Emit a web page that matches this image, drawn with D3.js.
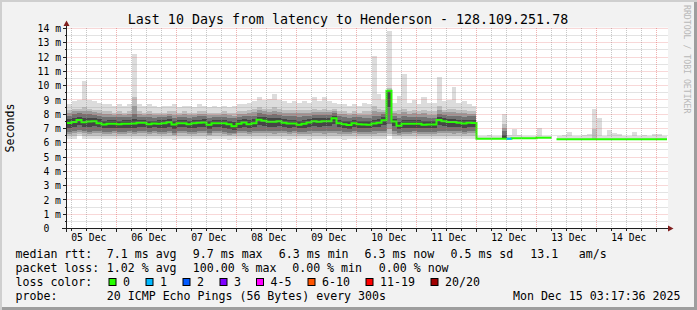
<!DOCTYPE html>
<html><head><meta charset="utf-8">
<script src="https://cdn.jsdelivr.net/npm/d3@7"></script>
<style>
body{margin:0;background:#f2f2f2}
svg{display:block}
text{font-family:"DejaVu Sans Mono",monospace;fill:#000}
</style>
</head><body>
<svg id="c" width="697" height="310"></svg>
<script>
// ---------------- data ----------------
const title = "Last 10 Days from latency to Henderson - 128.109.251.78";
const yTickValues = [0,1,2,3,4,5,6,7,8,9,10,11,12,13,14];
const dayLabels = ["05 Dec","06 Dec","07 Dec","08 Dec","09 Dec","10 Dec","11 Dec","12 Dec","13 Dec","14 Dec"];
// 2-hour steps starting 05 Dec 02:00, values in ms
const median = [
7.38,7.38,7.45,7.6,7.44,7.49,7.5,7.37,7.28,7.33,
7.33,7.3,7.33,7.33,7.35,7.4,7.4,7.3,7.35,7.33,
7.36,7.44,7.28,7.37,7.37,7.3,7.37,7.4,7.42,7.26,
7.37,7.37,7.37,7.3,7.16,7.33,7.42,7.3,7.37,7.62,
7.55,7.47,7.47,7.5,7.4,7.35,7.35,7.26,7.33,7.42,
7.5,7.47,7.5,7.5,7.72,7.37,7.3,7.24,7.37,7.3,
7.28,7.26,7.35,7.4,7.58,9.65,7.49,7.2,7.33,7.33,
7.33,7.33,7.26,7.28,7.28,7.6,7.5,7.45,7.45,7.4,
7.35,7.4,7.38,6.28,6.28,6.28,6.28,6.28,6.28,6.28,
6.32,6.32,6.32,6.32,6.32,6.35,6.35,6.35,null,6.25,
6.25,6.25,6.25,6.25,6.25,6.25,6.25,6.25,6.25,6.25,
6.25,6.25,6.25,6.25,6.25,6.25,6.25,6.25,6.25,6.25,
6.25,6.25];
const lostPings = [
0,0,0,0,0,0,0,0,0,0, 0,0,0,0,0,0,0,0,0,0,
0,0,0,0,0,0,0,0,0,0, 0,0,0,0,0,0,0,0,0,0,
0,0,0,0,0,0,0,0,0,0, 0,0,0,0,0,0,0,0,0,0,
0,0,0,0,0,0,0,0,0,0, 0,0,0,0,0,0,0,0,0,0,
0,0,0,0,0,0,0,0,0,1, 0,0,0,0,0,0,0,0,0,0,
0,0,0,0,0,0,0,0,0,0, 0,0,0,0,0,0,0,0,0,0,
0,0];
const smokeMin = [
6.3,6.25,6.25,6.45,6.3,6.25,6.25,6.3,6.25,6.25,
6.3,6.25,6.25,6.3,6.25,6.3,6.25,6.25,6.3,6.25,
6.25,6.3,6.2,6.25,6.25,6.3,6.25,6.25,6.3,6.2,
6.25,6.3,6.25,6.2,6.25,6.3,6.25,6.25,6.3,6.3,
6.25,6.3,6.25,6.3,6.25,6.2,6.25,6.3,6.25,6.2,
6.3,6.25,6.25,6.3,6.25,6.25,6.2,6.25,6.3,6.25,
6.25,6.3,6.25,6.3,6.3,6.45,6.25,6.25,6.3,6.25,
6.3,6.25,6.25,6.3,6.25,6.3,6.25,6.3,6.25,6.3,
6.25,6.3,6.3,null,null,null,null,null,6.28,null,
null,null,null,null,null,null,null,null,null,null,
null,null,null,null,null,null,6.25,null,null,null,
null,null,null,null,null,null,null,null,null,null,
null,null];
const smokeP10 = [
6.5,6.45,6.5,6.6,6.5,6.45,6.5,6.5,6.45,6.5,
6.5,6.45,6.5,6.5,6.45,6.5,6.5,6.45,6.5,6.5,
6.45,6.5,6.45,6.5,6.5,6.5,6.45,6.5,6.5,6.45,
6.5,6.5,6.45,6.45,6.5,6.5,6.5,6.45,6.5,6.5,
6.5,6.5,6.45,6.5,6.5,6.45,6.5,6.5,6.45,6.45,
6.5,6.5,6.45,6.5,6.5,6.45,6.45,6.5,6.5,6.45,
6.5,6.5,6.45,6.5,6.5,6.6,6.45,6.45,6.5,6.5,
6.5,6.45,6.5,6.5,6.45,6.5,6.5,6.5,6.45,6.5,
6.5,6.5,6.5,null,null,null,null,null,6.28,null,
null,null,null,null,null,null,null,null,null,null,
null,null,null,null,null,null,6.25,null,null,null,
null,null,null,null,null,null,null,null,null,null,
null,null];
const smokeP25 = [
6.8,6.75,6.8,6.9,6.8,6.75,6.8,6.8,6.75,6.75,
6.8,6.75,6.75,6.8,6.75,6.8,6.8,6.75,6.8,6.75,
6.75,6.8,6.7,6.8,6.8,6.75,6.75,6.8,6.8,6.7,
6.8,6.8,6.75,6.7,6.7,6.8,6.8,6.75,6.8,6.85,
6.85,6.8,6.8,6.85,6.8,6.75,6.8,6.75,6.75,6.8,
6.85,6.8,6.8,6.85,6.85,6.8,6.75,6.75,6.8,6.75,
6.75,6.75,6.8,6.8,6.85,7.3,6.8,6.7,6.75,6.75,
6.8,6.75,6.75,6.75,6.75,6.85,6.8,6.8,6.8,6.8,
6.75,6.8,6.8,null,null,null,null,null,6.28,null,
null,null,null,null,null,null,null,null,null,null,
null,null,null,null,null,null,null,null,null,null,
null,null,null,null,null,null,null,null,null,null,
null,null];
const smokeP75 = [
7.85,7.9,8.0,8.05,8.0,8.0,7.95,7.9,7.8,7.8,
7.8,7.8,7.8,7.8,8.0,7.8,7.8,7.8,7.75,7.8,
7.8,7.85,7.75,7.8,7.8,7.75,7.8,7.85,7.85,7.75,
7.8,7.8,7.8,7.75,7.7,7.8,7.85,7.85,7.9,8.05,
8.0,7.95,8.0,7.95,7.9,7.85,7.85,7.8,7.85,7.9,
7.95,7.95,7.95,7.95,8.1,7.85,7.8,7.75,7.8,7.8,
7.75,7.75,7.9,7.9,8.0,9.6,7.9,7.75,7.9,7.8,
7.8,7.8,7.8,7.75,7.75,8.0,7.95,7.9,7.9,7.85,
7.8,7.85,7.85,null,null,null,null,null,6.8,null,
null,null,null,null,null,null,null,null,null,null,
null,null,null,null,null,null,null,null,null,null,
null,null,null,null,null,null,null,null,null,null,
null,null];
const smokeP90 = [
8.2,8.3,8.4,8.4,8.5,8.4,8.3,8.3,8.2,8.2,
8.1,8.2,8.1,8.2,9.2,8.2,8.1,8.2,8.1,8.1,
8.1,8.2,8.2,8.1,8.2,8.1,8.1,8.2,8.2,8.1,
8.1,8.1,8.2,8.1,8.1,8.2,8.2,8.3,8.4,8.5,
8.4,8.4,8.5,8.4,8.3,8.3,8.3,8.3,8.3,8.3,
8.4,8.3,8.4,8.3,8.4,8.2,8.2,8.1,8.2,8.1,
8.2,8.2,8.6,8.4,8.3,9.8,8.2,8.3,8.4,8.2,
8.3,8.2,8.3,8.2,8.2,8.6,8.3,8.4,8.4,8.3,
8.3,8.2,8.2,null,null,null,null,null,7.3,null,
null,null,null,null,null,null,null,null,null,null,
null,null,null,null,null,null,7.0,null,null,null,
null,null,null,null,null,null,null,null,null,null,
null,null];
const smokeMax = [
8.6,8.7,8.9,9.0,10.3,9.0,8.9,8.8,8.7,8.7,
8.6,8.7,8.6,8.7,12.2,8.7,8.6,8.7,8.6,8.5,
8.6,8.6,8.7,8.5,8.6,8.6,8.5,8.7,8.6,8.5,
8.6,8.5,8.6,8.5,8.6,8.7,8.7,8.8,8.9,9.2,
9.0,9.1,9.4,9.0,8.9,8.8,8.9,8.8,8.9,8.8,
9.2,8.9,9.2,8.9,8.8,8.7,8.7,8.6,8.7,8.6,
8.8,8.7,12.1,9.4,9.0,13.8,8.8,9.3,10.8,8.8,
9.0,8.7,9.2,8.8,8.8,10.6,8.9,9.0,9.9,8.8,
8.9,8.7,8.6,6.45,6.5,6.55,6.45,6.5,8.0,6.55,
7.0,6.55,6.5,6.5,6.45,7.06,6.5,6.45,null,6.5,
6.55,6.74,6.5,6.5,6.55,6.6,8.4,7.72,6.5,6.93,
6.7,6.6,6.5,6.45,6.74,6.5,6.55,6.5,6.6,6.6,
6.5,6.45];
const lossLabels = ["0","1","2","3","4-5","6-10","11-19","20/20"];
const lossColors = ["#26ff00","#00b8ff","#0059ff","#7e00ff","#ff00ff","#ff5500","#ff0000","#a00000"];
const rttStats = ["7.1 ms avg","9.7 ms max","6.3 ms min","6.3 ms now","0.5 ms sd","13.1","am/s"];
const lossStats = ["1.02 % avg","100.00 % max","0.00 % min","0.00 % now"];
const probeText = "20 ICMP Echo Pings (56 Bytes) every 300s";
const stampText = "Mon Dec 15 03:17:36 2025";
const watermark = "RRDTOOL / TOBI OETIKER";

// ---------------- layout ----------------
const W = 697, H = 310;
const svg = d3.select("#c");
const stepStart = Date.UTC(2025,11,5,2), stepMs = 2*3600e3;
const x = d3.scaleUtc().domain([new Date(Date.UTC(2025,11,5)), new Date(Date.UTC(2025,11,15))]).range([56.5,656.5]);
const y = d3.scaleLinear().domain([0,14]).range([228.5,28.5]);
const PX0 = 67, PX1 = 667, PY0 = 28, PY1 = 228.5;

// frame
svg.append("rect").attr("width",W).attr("height",H).attr("fill","#f2f2f2");
svg.append("path").attr("d","M0,0H697V2H2V310H0Z").attr("fill","#cfcfcf");
svg.append("path").attr("d","M694,2H697V310H2V307H694Z").attr("fill","#9e9e9e");
// canvas
svg.append("rect").attr("x",66.5).attr("y",27.5).attr("width",601.5).attr("height",201).attr("fill","#fff");

const defs = svg.append("defs");
defs.append("clipPath").attr("id","clip").append("rect")
  .attr("x",PX0).attr("y",18).attr("width",PX1-PX0).attr("height",PY1-18);

const plot = svg.append("g").attr("clip-path","url(#clip)");
const tAt = i => new Date(stepStart + i*stepMs);
const mid = (a,b) => (a!=null && b!=null) ? (a+b)/2 : null;

// smoke bands, outermost first
const bands = [
  {lo:i=> smokeMin[i]!=null?smokeMin[i]:median[i], hi:i=>smokeMax[i], c:"#dcdcdc"},
  {lo:i=>smokeP10[i], hi:i=>smokeP90[i], c:"#bdbdbd"},
  {lo:i=>mid(smokeP10[i],smokeP25[i]), hi:i=>mid(smokeP75[i],smokeP90[i]), c:"#9a9a9a"},
  {lo:i=>smokeP25[i], hi:i=>smokeP75[i], c:"#727272"},
  {lo:i=>mid(smokeP25[i],median[i]), hi:i=>mid(smokeP75[i],median[i]), c:"#464646"}
];
bands.forEach(b=>{
  const g = plot.append("g").attr("fill",b.c).attr("shape-rendering","crispEdges");
  median.forEach((m,i)=>{
    const lo = b.lo(i), hi = b.hi(i);
    if (lo==null || hi==null || hi<=lo) return;
    const x0 = Math.round(x(tAt(i))), x1 = Math.round(x(tAt(i+1)));
    g.append("rect").attr("x",x0).attr("width",x1-x0)
      .attr("y",Math.round(y(hi))).attr("height",Math.max(1,Math.round(y(lo))-Math.round(y(hi))));
  });
});

// grid
const grid = svg.append("g").attr("fill","none").attr("stroke-dasharray","1,1").attr("stroke-width",1);
const hours = d3.utcHour.every(6).range(x.invert(PX0), x.invert(PX1));
const px = d => Math.floor(x(d))+0.5;
const py = v => Math.round(y(v)-0.5)+0.5;
const halfSteps = d3.range(1,29).map(k=>k/2);
const minorC = "rgba(143,143,143,0.5)", majorC = "rgba(222,79,79,0.45)";
halfSteps.filter(v=>v%1!==0).forEach(v=>{
  grid.append("line").attr("x1",66.5).attr("x2",668).attr("y1",py(v)).attr("y2",py(v)).attr("stroke",minorC);
});
hours.filter(d=>d.getUTCHours()!==0).forEach(d=>{
  grid.append("line").attr("x1",px(d)).attr("x2",px(d)).attr("y1",PY0).attr("y2",PY1).attr("stroke",minorC);
});
halfSteps.filter(v=>v%1===0).forEach(v=>{
  grid.append("line").attr("x1",66.5).attr("x2",668).attr("y1",py(v)).attr("y2",py(v)).attr("stroke",majorC);
});
hours.filter(d=>d.getUTCHours()===0).forEach(d=>{
  grid.append("line").attr("x1",px(d)).attr("x2",px(d)).attr("y1",PY0).attr("y2",PY1).attr("stroke",majorC);
});

// median line (step)
const pts = [];
median.forEach((m,i)=>{ pts.push({t:tAt(i),v:m}); pts.push({t:tAt(i+1),v:m}); });
const line = d3.line().defined(p=>p.v!=null).x(p=>x(p.t)).y(p=>y(p.v));
plot.append("path").attr("d",line(pts)).attr("fill","none").attr("stroke",lossColors[0]).attr("stroke-width",2);
const binOf = n => n===0?0:n===1?1:n===2?2:n===3?3:n<=5?4:n<=10?5:n<=19?6:7;
lostPings.forEach((n,i)=>{
  if (!n || median[i]==null) return;
  plot.append("line").attr("x1",x(tAt(i))).attr("x2",x(tAt(i+1))).attr("y1",y(median[i])).attr("y2",y(median[i]))
    .attr("stroke",lossColors[binOf(n)]).attr("stroke-width",2);
});

// axes
const yAxis = d3.axisLeft(y).tickValues(yTickValues).tickSize(0).tickPadding(5.5)
  .tickFormat(v => v===0 ? "0\u00a0\u00a0" : v+" m");
const gy = svg.append("g").attr("transform","translate(66.5,0)").call(yAxis);
gy.select(".domain").remove();
gy.selectAll("text").attr("font-size","9.75px").attr("font-family","DejaVu Sans Mono").attr("fill","#000");

const noonTicks = dayLabels.map((_,k)=> new Date(Date.UTC(2025,11,5+k,12)));
const xAxis = d3.axisBottom(x).tickValues(noonTicks).tickSize(0).tickPadding(6)
  .tickFormat((d,k)=>dayLabels[k]);
const gx = svg.append("g").attr("transform","translate(0,228.5)").call(xAxis);
gx.select(".domain").remove();
gx.selectAll("text").attr("font-size","9.75px").attr("font-family","DejaVu Sans Mono").attr("fill","#000").attr("dx","1.8");

const ax = svg.append("g").attr("stroke","#1f1f1f").attr("stroke-width",1).attr("shape-rendering","crispEdges");
ax.append("line").attr("x1",66.5).attr("x2",66.5).attr("y1",232).attr("y2",25);
ax.append("line").attr("x1",62).attr("x2",669).attr("y1",228.5).attr("y2",228.5);
halfSteps.forEach(v=>{
  ax.append("line").attr("x1",v%1===0?62.5:64.5).attr("x2",66.5).attr("y1",py(v)).attr("y2",py(v));
});
hours.forEach(d=>{
  ax.append("line").attr("x1",px(d)).attr("x2",px(d)).attr("y1",228.5).attr("y2",d.getUTCHours()===0?232:230.5);
});
svg.append("path").attr("d","M63.5,26L69.5,26L66.5,20.5Z").attr("fill","#801f1f");
svg.append("path").attr("d","M668,225.5L668,231.5L673.5,228.5Z").attr("fill","#801f1f");

// titles
svg.append("text").attr("x",348).attr("y",23.5).attr("text-anchor","middle").attr("font-size","13.3px").text(title);
svg.append("text").attr("transform","translate(10,128) rotate(-90)").attr("text-anchor","middle")
  .attr("dominant-baseline","central").attr("font-size","11.6px").text("Seconds");
svg.append("text").attr("transform","translate(687,5) rotate(90)").attr("dy","0.35em")
  .attr("font-size","8.2px").style("fill","#b8b8b8").text(watermark);

// legend
const LF = "11.6px";
const leg = svg.append("g").attr("font-size",LF);
const put = (s,xx,yy,anchor)=>leg.append("text").attr("x",xx).attr("y",yy).attr("text-anchor",anchor||"start")
  .attr("xml:space","preserve").text(s);
const r1 = 258.3, r2 = 272.2, r3 = 285.8, r4 = 299.7;
put("median rtt:",15.5,r1);
[106.8,192.8,278.8,364.5,450.5,530.2,578.8].forEach((xx,k)=>put(rttStats[k],xx,r1));
put("packet loss:",15.5,r2);
[106.8,192.8,292.2,378.8].forEach((xx,k)=>put(lossStats[k],xx,r2));
put("loss color:",15.5,r3);
const boxX = [108.5,145.5,182.5,219.5,256,307.5,365.5,430.5];
lossLabels.forEach((l,k)=>{
  leg.append("rect").attr("x",boxX[k]+0.5).attr("y",278.5).attr("width",7).attr("height",7)
    .attr("fill",lossColors[k]).attr("stroke","#000").attr("stroke-width",1);
  put(l,boxX[k]+14.5,r3);
});
put("probe:",15.5,r4);
put(probeText,106.8,r4);
put(stampText,680.5,r4,"end");
</script>
</body></html>
